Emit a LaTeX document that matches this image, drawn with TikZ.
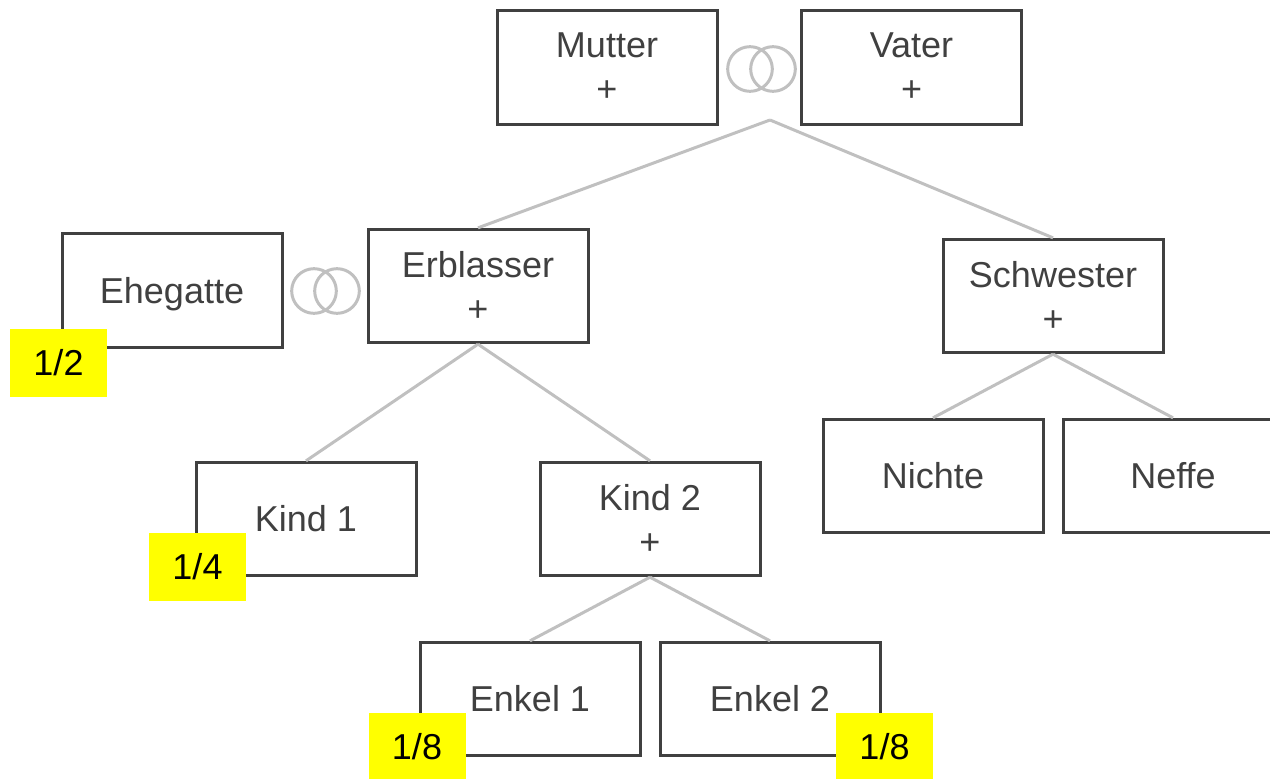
\documentclass[tikz,border=0pt]{standalone}
\usepackage{fontspec}
\setmainfont{Liberation Sans}
\definecolor{boxgray}{HTML}{404040}
\definecolor{linegray}{HTML}{C0C0C0}
\definecolor{shareyellow}{HTML}{FFFF00}
\begin{document}
\begin{tikzpicture}[x=0.75pt,y=-0.75pt]
  \tikzstyle{every node}=[font=\fontsize{27}{33}\selectfont]
  \tikzstyle{person}=[draw=boxgray,line width=2.25pt,text=boxgray,align=center,minimum width=165pt,minimum height=85pt,inner sep=0pt]
  \tikzstyle{share}=[fill=shareyellow,text=black,minimum width=72.75pt,minimum height=51pt,inner sep=0pt]
  \tikzstyle{ring}=[circle,draw=linegray,line width=2.25pt,minimum size=33.5pt,inner sep=0pt]
  \tikzstyle{branch}=[draw=linegray,line width=2.25pt]
  \useasboundingbox (0,0) rectangle (1270,778);
  \clip (0,0) rectangle (1270,778);
  % parents
  \node[person] (mutter) at (607,67.5) {Mutter\\+};
  \node[person] (vater) at (911.5,67.5) {Vater\\+};
  \node[ring] (ringMa) at (750,69) {};
  \node[ring] (ringMb) at (773,69) {};
  \coordinate (eltern) at (770,120);
  % second row
  \node[person,text depth=0pt] (ehegatte) at (172,290.5) {Ehegatte};
  \node[ring] (ringEa) at (314,291) {};
  \node[ring] (ringEb) at (337,291) {};
  \node[person] (erblasser) at (478,286) {Erblasser\\+};
  \node[person] (schwester) at (1053,296) {Schwester\\+};
  % children
  \node[person] (nichte) at (933,476) {Nichte};
  \node[person] (neffe) at (1173,476) {Neffe};
  \node[person] (kind1) at (306,519) {Kind 1};
  \node[person] (kind2) at (650,519) {Kind 2\\+};
  \node[person] (enkel1) at (530,699) {Enkel 1};
  \node[person] (enkel2) at (770,699) {Enkel 2};
  % edges
  \path[branch] (eltern) -- (erblasser.north);
  \path[branch] (eltern) -- (schwester.north);
  \path[branch] (erblasser.south) -- (kind1.north);
  \path[branch] (erblasser.south) -- (kind2.north);
  \path[branch] (schwester.south) -- (nichte.north);
  \path[branch] (schwester.south) -- (neffe.north);
  \path[branch] (kind2.south) -- (enkel1.north);
  \path[branch] (kind2.south) -- (enkel2.north);
  % shares
  \node[share] (share1) at (58.5,362.5) {1/2};
  \node[share] (share2) at (197.5,567) {1/4};
  \node[share] (share3) at (417,747) {1/8};
  \node[share] (share4) at (884.5,747) {1/8};
\end{tikzpicture}
\end{document}
